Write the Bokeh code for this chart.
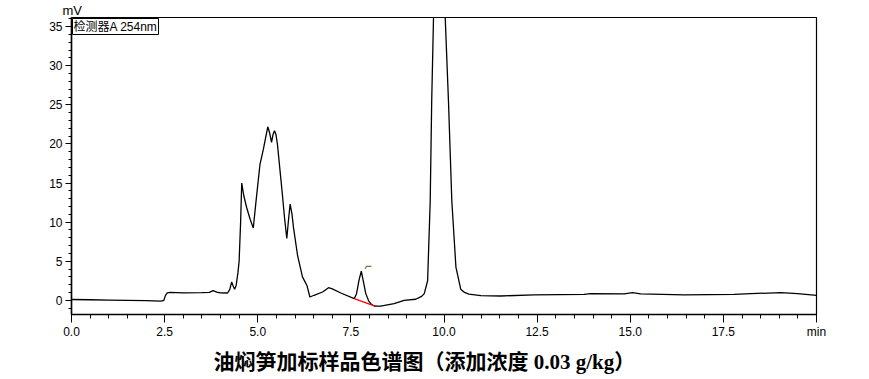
from bokeh.plotting import figure
from bokeh.models import Range1d, Label, FixedTicker, Title
from bokeh.embed import file_html
from bokeh.resources import INLINE

# retention time (min) and detector signal (mV)
time_min = [0.0, 0.5, 1.0, 1.5, 2.0, 2.4, 2.48, 2.52, 2.57, 2.65, 3.0, 3.5, 3.7, 3.8, 3.9,
            4.0, 4.19, 4.25, 4.30, 4.35, 4.38, 4.42, 4.47, 4.50, 4.54, 4.57, 4.62, 4.70,
            4.80, 4.88, 4.95, 5.06, 5.15, 5.22, 5.27, 5.32, 5.37, 5.41, 5.45, 5.49, 5.53,
            5.60, 5.66, 5.72, 5.78, 5.83, 5.87, 5.92, 5.96, 6.07, 6.20, 6.32, 6.40, 6.51,
            6.74, 6.90, 7.00, 7.23, 7.59, 7.65, 7.72, 7.78, 7.84, 7.90, 7.98, 8.05, 8.13,
            8.21, 8.30, 8.66, 8.93, 9.24, 9.40, 9.47, 9.56, 9.63, 9.67, 9.72, 9.80, 9.875,
            9.95, 10.03, 10.12, 10.21, 10.32, 10.45, 10.55, 10.67, 10.99, 11.52, 12.42,
            13.76, 13.94, 14.84, 15.06, 15.28, 16.45, 17.79, 18.24, 19.04, 19.49, 20.0]
signal_mv = [0.10, 0.07, 0.03, 0.0, -0.05, -0.12, 0.0, 0.6, 0.95, 1.0, 0.95, 0.97, 1.0, 1.23, 1.05,
             0.95, 0.93, 1.4, 2.35, 1.7, 1.4, 1.9, 3.6, 5.0, 10.0, 15.0, 13.5, 11.9,
             10.3, 9.25, 12.5, 17.4, 19.3, 21.0, 22.2, 21.4, 20.2, 21.2, 21.7, 21.2, 19.9,
             16.5, 13.6, 10.5, 7.9, 10.5, 12.3, 11.0, 9.3, 5.7, 3.0, 1.9, 0.42, 0.64,
             1.06, 1.61, 1.45, 0.93, 0.21, 0.8, 2.6, 3.73, 2.3, 0.85, -0.1, -0.51, -0.73,
             -0.76, -0.74, -0.42, 0.0, 0.13, 0.5, 0.85, 2.5, 12.7, 25.5, 36.5, 50.0, 55.0,
             50.0, 36.5, 25.5, 12.7, 4.24, 1.4, 1.0, 0.8, 0.6, 0.55, 0.68,
             0.76, 0.85, 0.81, 0.97, 0.81, 0.68, 0.76, 0.85, 0.97, 0.85, 0.64]

# integration baseline of the small peak
base_t = [7.59, 8.13]
base_v = [0.21, -0.73]

# peak flag marker
flag_t = [7.88, 7.92, 8.05]
flag_v = [4.0, 4.35, 4.35]

x_ticks = [0.0, 2.5, 5.0, 7.5, 10.0, 12.5, 15.0, 17.5, 20.0]
x_tick_labels = ["0.0", "2.5", "5.0", "7.5", "10.0", "12.5", "15.0", "17.5", "min"]
y_ticks = [0, 5, 10, 15, 20, 25, 30, 35]

y_unit = "mV"
detector_text = "检测器A 254nm"
title_text = "油焖笋加标样品色谱图（添加浓度 0.03 g/kg）"

p = figure(width=861, height=379, output_backend="svg", toolbar_location=None,
           x_range=Range1d(0, 20), y_range=Range1d(-1.82, 36.18),
           min_border_left=71, min_border_right=45, min_border_top=16, min_border_bottom=65)

p.xgrid.visible = False
p.ygrid.visible = False
p.outline_line_color = "black"
p.outline_line_width = 1.2
p.background_fill_color = "white"
p.border_fill_color = "white"

p.xaxis.ticker = FixedTicker(ticks=x_ticks, minor_ticks=[i * 0.5 for i in range(41)])
p.xaxis.major_label_overrides = {t: s for t, s in zip(x_ticks, x_tick_labels)}
p.yaxis.ticker = FixedTicker(ticks=y_ticks, minor_ticks=list(range(-1, 37)))

for ax in (p.xaxis, p.yaxis):
    ax.axis_line_color = "black"
    ax.axis_line_width = 1.5
    ax.major_tick_line_color = "black"
    ax.minor_tick_line_color = "black"
    ax.major_tick_in = 0
    ax.minor_tick_in = 0
    ax.major_label_text_font = "Liberation Sans"
    ax.major_label_text_font_size = "12px"
    ax.major_label_text_color = "black"

p.xaxis.major_tick_out = 8
p.xaxis.minor_tick_out = 4
p.xaxis.major_label_standoff = 2
p.yaxis.major_tick_out = 6
p.yaxis.minor_tick_out = 3
p.yaxis.major_label_standoff = 3

p.line(time_min, signal_mv, color="black", line_width=1.3)
p.line(base_t, base_v, color="red", line_width=1.3)
p.line(flag_t, flag_v, color="#8a6a3a", line_width=1.2)

# unit label above the y axis
p.title.text = y_unit
p.title.align = "left"
p.title.offset = -9
p.title.standoff = 0
p.title.text_font = "Liberation Sans"
p.title.text_font_size = "13px"
p.title.text_font_style = "normal"
p.title.text_color = "black"

p.add_layout(Label(x=0, y=36.18, text=detector_text, text_align="left", text_baseline="top",
                   text_font="Liberation Sans, Noto Sans CJK SC", text_font_size="12px",
                   text_color="black", border_line_color="black", border_line_width=1,
                   background_fill_color="white", padding=1, x_offset=1, y_offset=-1))

p.add_layout(Title(text=title_text, align="left", offset=142, standoff=12,
                   text_font="Liberation Serif, Noto Sans CJK SC", text_font_size="21px",
                   text_font_style="bold", text_color="black"), "below")

open("out.html", "w").write(file_html(p, INLINE))
